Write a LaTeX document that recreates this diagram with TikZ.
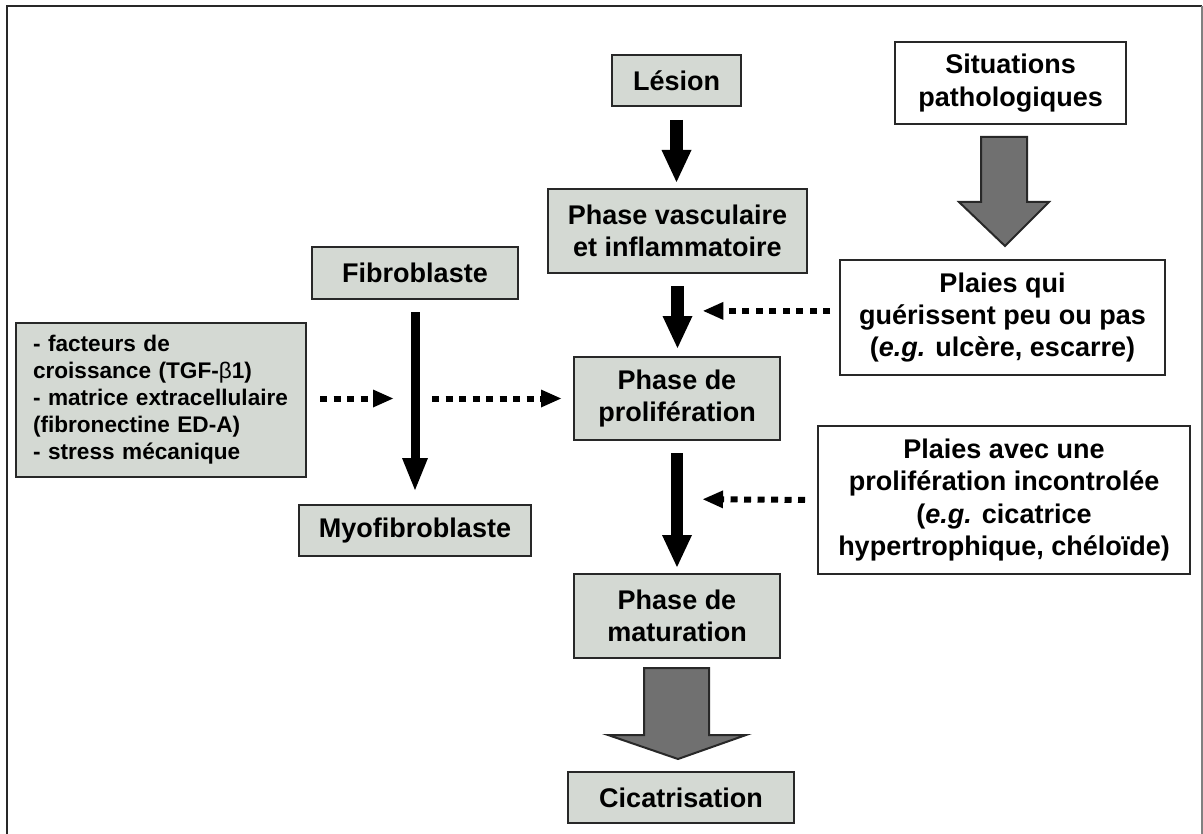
\documentclass[tikz,border=0pt]{standalone}
\usepackage{fontspec}
\setmainfont{Liberation Sans}
\usetikzlibrary{arrows.meta, positioning, calc}

\definecolor{boxgrey}{RGB}{212,217,211}
\definecolor{edgegrey}{RGB}{40,40,40}
\definecolor{arrowgrey}{RGB}{112,112,112}

\tikzset{
	phase/.style={draw=edgegrey, line width=1pt, fill=boxgrey, inner sep=0pt, anchor=north west, align=center, font=\fontsize{13.5}{16.2}\selectfont\bfseries},
	patho/.style={phase, fill=white},
	bigstep/.style={-{Triangle[width=15pt, length=16pt, line width=0pt]}, line width=6.25pt},
	fibstep/.style={-{Triangle[width=13pt, length=16pt, line width=0pt]}, line width=4.5pt},
	dotstep/.style={-{Triangle[width=9pt, length=10pt, line width=0pt]}, line width=3pt, dash pattern=on 3.5pt off 3.25pt},
	blockarrow/.style={draw=edgegrey, line width=1pt, fill=arrowgrey, line join=miter},
	frame/.style={draw=edgegrey, line width=1pt}
}

\begin{document}
\begin{tikzpicture}[x=0.5pt, y=-0.5pt]
		\useasboundingbox (0,0) rectangle (1203,834);

		\coordinate (lesion)  at (611, 54);
		\coordinate (vasc)    at (547, 188);
		\coordinate (prolif)  at (573, 356);
		\coordinate (matur)   at (573, 573);
		\coordinate (cicat)   at (567, 771);
		\coordinate (situ)    at (894, 41);
		\coordinate (peu)     at (839, 259);
		\coordinate (incont)  at (817, 425);
		\coordinate (fibro)   at (311, 246);
		\coordinate (myofib)  at (298, 504);
		\coordinate (facteur) at (15, 322);

		\draw[frame] (7,840) |- (1202,6);
		\draw[frame, draw=gray] (1202,6) -- (1202,840);

		\node[phase, minimum width=64.5pt, minimum height=25.5pt] (LES) at (lesion) {Lésion};
		\node[phase, minimum width=129.5pt, minimum height=42pt] (VAS) at (vasc) {Phase vasculaire\\et inflammatoire};
		\node[phase, minimum width=103pt, minimum height=41.5pt] (PRO) at (prolif) {Phase de\\prolifération};
		\node[phase, minimum width=103pt, minimum height=42pt] (MAT) at (matur) {Phase de\\maturation};
		\node[phase, minimum width=113pt, minimum height=25.5pt] (CIC) at (cicat) {Cicatrisation};
		\node[patho, minimum width=115.5pt, minimum height=41pt] (SIT) at (situ) {Situations\\pathologiques};
		\node[patho, minimum width=162.5pt, minimum height=57.5pt] (PQG) at (peu) {Plaies qui\\guérissent peu ou pas\\(\textit{e.g.} ulcère, escarre)};
		\node[patho, minimum width=186pt, minimum height=74pt] (PPI) at (incont) {Plaies avec une\\prolifération incontrolée\\(\textit{e.g.} cicatrice\\hypertrophique, chéloïde)};
		\node[phase, minimum width=103pt, minimum height=26pt] (FIB) at (fibro) {Fibroblaste};
		\node[phase, minimum width=116pt, minimum height=25.5pt] (MYO) at (myofib) {Myofibroblaste};
		\node[phase, minimum height=77pt, inner xsep=8.5pt, text width=128pt, align=left, font=\fontsize{11.3}{13.5}\selectfont\bfseries] (FAC) at (facteur) {- facteurs de\\croissance (TGF-{\mdseries β}1)\\- matrice extracellulaire\\(fibronectine ED-A)\\- stress mécanique};

		\coordinate (kA) at ($(VAS.south)!0.45!(PRO.north)$);
		\coordinate (kB) at ($(PRO.south)!0.44!(MAT.north)$);
		\coordinate (kF) at (FIB.south |- PRO.west);

		\draw[bigstep, shorten <=6.5pt, shorten >=3pt] (LES.south) -- (LES.south |- VAS.north);
		\draw[bigstep, shorten <=6pt, shorten >=4pt] (VAS.south) -- (VAS.south |- PRO.north);
		\draw[bigstep, shorten <=6pt, shorten >=3pt] (PRO.south) -- (PRO.south |- MAT.north);
		\draw[fibstep, shorten <=6pt, shorten >=7pt] (FIB.south) -- (FIB.south |- MYO.north);

		\draw[dotstep, shorten <=4.5pt, shorten >=13pt] (PQG.west |- kA) -- (kA);
		\draw[dotstep, shorten <=6pt, shorten >=13pt] (PPI.west) -- (kB);
		\draw[dotstep, shorten <=6.5pt, shorten >=11pt] (FAC.east |- kF) -- (kF);
		\draw[dotstep, shorten <=8.5pt, shorten >=6pt] (kF) -- (PRO.west);

		\draw[blockarrow] ($(PQG.north)+(2.5,-13)$) -- ++(-46,-44) -- ++(22,0) -- ++(0,-65) -- ++(46,0) -- ++(0,65) -- ++(22,0) -- cycle;
		\draw[blockarrow] ($(CIC.north)+(-3,-12)$) -- ++(-70,-24) -- ++(36,0) -- ++(0,-67) -- ++(65,0) -- ++(0,67) -- ++(37,0) -- cycle;
	\end{tikzpicture}
\end{document}
